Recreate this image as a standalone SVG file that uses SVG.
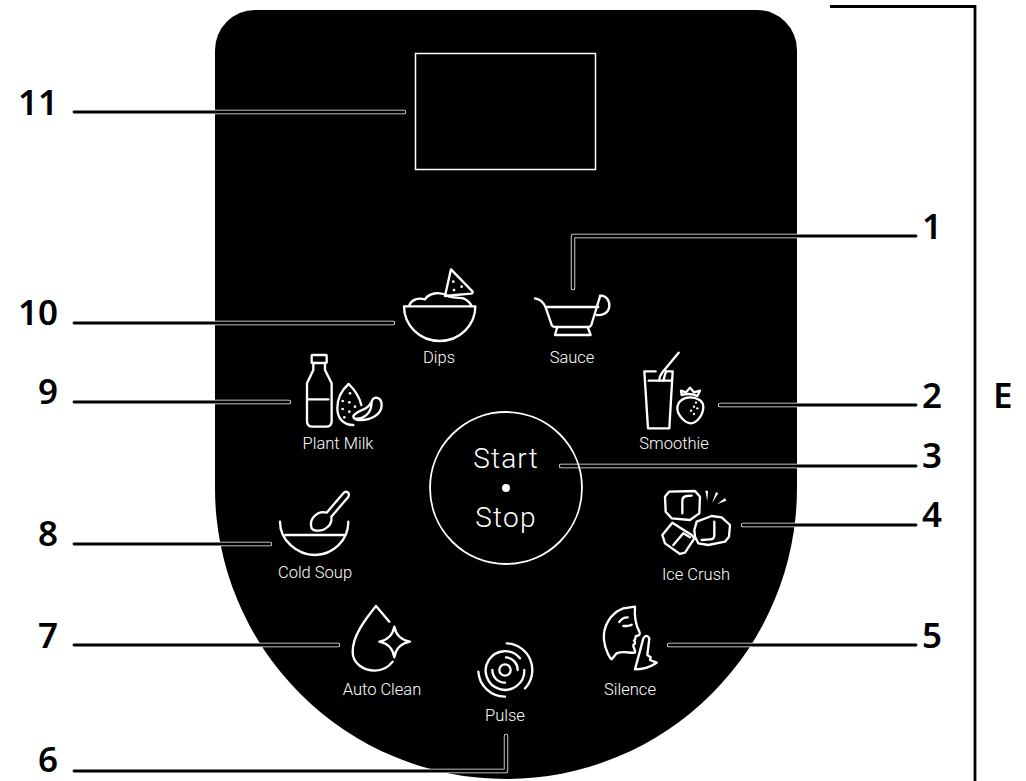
<svg xmlns="http://www.w3.org/2000/svg" width="1026" height="781" viewBox="0 0 1026 781">
<style>
.ic{fill:none;stroke:#fff;stroke-width:7;stroke-linecap:round;stroke-linejoin:round}
.dot{fill:#fff;stroke:none}
.lbl{font-family:Roboto,"Liberation Sans",sans-serif;font-size:16.5px;font-weight:300;fill:#fff;text-anchor:middle}
.big{font-family:Roboto,"Liberation Sans",sans-serif;font-size:28px;font-weight:300;fill:#fff;text-anchor:middle;letter-spacing:1.2px}
.num{font-family:"Noto Sans","Open Sans",sans-serif;font-weight:600;font-size:35px;fill:#000}
.halo{fill:none;stroke:#fff;stroke-width:4.4;stroke-linecap:round;stroke-linejoin:round}
.core{fill:none;stroke:#000;stroke-width:2.8;stroke-linecap:round;stroke-linejoin:round}
</style>
<defs>
<g id="c11"><path d="M74 112H404"/></g>
<g id="c10"><path d="M74 323H393"/></g>
<g id="c9"><path d="M74 402H289"/></g>
<g id="c8"><path d="M74 544H270"/></g>
<g id="c7"><path d="M74 645H338"/></g>
<g id="c6"><path d="M74 771H506V736"/></g>
<g id="c1"><path d="M916 236H573V288"/></g>
<g id="c2"><path d="M720 405H916"/></g>
<g id="c3"><path d="M561 466H916"/></g>
<g id="c4"><path d="M743 525H916"/></g>
<g id="c5"><path d="M669 645H916"/></g>
</defs>
<rect width="1026" height="781" fill="#fff"/>
<path id="panel" d="M215 50A40 40 0 0 1 255 10H757A40 40 0 0 1 797 50V488A291 291 0 0 1 215 488Z" fill="#000"/>
<g id="display"><rect x="415.500" y="53.500" width="180" height="116" fill="none" stroke="#fff" stroke-width="1.500"/></g>
<g id="connectors">
<g class="halo"><use href="#c11"/><use href="#c10"/><use href="#c9"/><use href="#c8"/><use href="#c7"/><use href="#c6"/><use href="#c1"/><use href="#c2"/><use href="#c3"/><use href="#c4"/><use href="#c5"/></g>
<g class="core"><use href="#c11"/><use href="#c10"/><use href="#c9"/><use href="#c8"/><use href="#c7"/><use href="#c6"/><use href="#c1"/><use href="#c2"/><use href="#c3"/><use href="#c4"/><use href="#c5"/></g>
<path d="M830 6.500H975V781" fill="none" stroke="#000" stroke-width="2.800"/>
</g>
<g id="dips">
<g transform="translate(380 230) scale(.3333)" class="ic">
<path d="M72 229H286C286 285 240 333 179 333C118 333 72 285 72 229Z"/>
<path d="M88 225C95 208 115 202 135 208C145 192 175 180 208 200C225 205 240 203 250 205C262 210 270 218 274 226"/>
<path d="M213 118L278 185Q280 190 272 191L195 198Z"/>
<circle class="dot" cx="220" cy="155" r="4"/><circle class="dot" cx="245" cy="170" r="4"/><circle class="dot" cx="222" cy="180" r="4"/>
</g>
<text class="lbl" x="439" y="363">Dips</text></g>
<g id="sauce">
<g transform="translate(380 230) scale(.3333)" class="ic">
<path d="M465 205C485 208 492 220 497 232L515 285Q517 291 525 291H625Q631 291 634 285L660 200"/>
<path d="M497 231H655"/>
<path d="M660 197C680 195 690 215 688 230C686 248 670 257 650 255"/>
<path d="M532 291L525 315H632L623 291"/>
</g>
<text class="lbl" x="572" y="363">Sauce</text></g>
<g id="smoothie">
<g transform="translate(620 340) scale(.3333)" class="ic">
<path d="M107 94H73L84 265H148L158 94H138"/>
<path d="M86 122H153"/>
<path d="M176 38L128 96Q118 108 118 122"/>
<path d="M138 94L130 122"/>
<path d="M210 172C190 172 172 185 172 205C172 225 195 250 212 250C230 250 250 225 250 200C250 182 230 172 210 172Z"/>
<path d="M185 165L183 152L198 157L210 143L222 157L240 152L232 168Q210 158 185 165Z"/>
<circle class="dot" cx="228" cy="188" r="3.500"/><circle class="dot" cx="222" cy="200" r="3.500"/><circle class="dot" cx="232" cy="205" r="3.500"/><circle class="dot" cx="213" cy="212" r="3.500"/><circle class="dot" cx="222" cy="222" r="3.500"/>
</g>
<text class="lbl" x="674" y="449">Smoothie</text></g>
<g id="plantmilk">
<g transform="translate(260 340) scale(.3333)" class="ic">
<rect x="155" y="45" width="45" height="24" rx="2"/>
<path d="M160 69V90L141 130V243Q141 260 158 260H198Q215 260 215 243V130L195 90V69"/>
<path d="M145 178H205"/>
<path d="M266 132C245 150 232 175 232 205C232 235 250 255 280 255"/>
<path d="M266 132C285 150 298 170 304 195"/>
<path d="M282 235C310 240 335 222 335 185C340 165 365 172 365 195C365 225 330 243 295 240C283 238 277 232 282 225C300 205 320 215 335 185"/>
<circle class="dot" cx="270" cy="160" r="4"/><circle class="dot" cx="248" cy="183" r="4"/><circle class="dot" cx="268" cy="187" r="4"/><circle class="dot" cx="285" cy="200" r="4"/><circle class="dot" cx="248" cy="207" r="4"/><circle class="dot" cx="268" cy="215" r="4"/><circle class="dot" cx="253" cy="232" r="4"/>
</g>
<text class="lbl" x="338" y="449">Plant Milk</text></g>
<g id="coldsoup">
<g transform="translate(260 340) scale(.3333)" class="ic">
<path d="M60 545C60 600 110 645 165 645C220 645 265 600 265 545"/>
<path d="M76 585H252"/>
<path d="M155 565C145 535 175 510 200 518L250 460C258 450 272 458 264 472L214 530C218 555 195 572 175 572C165 572 158 570 155 565Z"/>
</g>
<text class="lbl" x="315" y="578">Cold Soup</text></g>
<g id="autoclean">
<g transform="translate(330 590) scale(.3333)" class="ic">
<path d="M178 95L138 48C100 95 68 140 68 185C68 220 100 242 135 242C155 242 175 232 188 215"/>
<path d="M193 110Q200 148 240 155Q200 162 193 202Q186 162 148 155Q186 148 193 110Z"/>
</g>
<text class="lbl" x="382" y="695">Auto Clean</text></g>
<g id="pulse">
<g transform="translate(470 635) scale(.3333)" class="ic">
<circle cx="105" cy="105" r="17"/>
<path d="M108 67A38 38 0 0 1 143 105"/>
<path d="M67 105A38 38 0 0 0 105 143"/>
<path d="M150 70A58 58 0 1 0 163 105"/>
<path d="M110 25A80 80 0 0 1 165 160"/>
<path d="M25 110A80 80 0 0 0 105 185"/>
</g>
<text class="lbl" x="505" y="721">Pulse</text></g>
<g id="silence">
<g transform="translate(590 600) scale(.3333)" class="ic">
<path d="M65 178L80 160C100 152 120 160 135 158C138 150 128 142 130 135C135 132 138 128 132 122C138 118 135 112 138 108C148 108 152 102 148 95C140 80 132 60 135 20L100 25C60 40 38 80 42 120C45 150 60 175 65 178Z"/>
<path d="M88 66C95 55 105 52 113 52"/>
<path d="M100 78C110 78 118 78 125 74"/>
<path d="M135 208L160 115Q170 100 178 115L172 165L182 172L180 180L200 188Q170 208 135 208Z"/>
</g>
<text class="lbl" x="630" y="695">Silence</text></g>
<g id="icecrush">
<g transform="translate(655 480) scale(.3333)" class="ic">
<path d="M42 35L120 33L135 50L133 100L105 120L50 115L32 95L30 50Z"/>
<path d="M82 100V62Q82 50 95 48L110 47"/>
<path d="M52 128L22 165L30 190L75 222L90 218L118 175L110 165Z"/>
<path d="M55 195L85 160L105 172"/>
<path d="M125 125L170 108L200 112L225 135L222 170L210 185L160 195L130 190L120 170L118 150Z"/>
<path d="M178 125V165Q178 178 165 178L140 180"/>
<path class="dot" d="M151 32L159 32L157 64Z"/>
<path class="dot" d="M183 36L190 40L171 70Z"/>
<path class="dot" d="M210 54L214 62L186 73Z"/>
</g>
<text class="lbl" x="696" y="580">Ice Crush</text></g>
<g id="startstop">
<circle cx="506" cy="488" r="76" fill="none" stroke="#fff" stroke-width="1.800"/>
<circle cx="506" cy="488" r="4" fill="#fff"/>
<text class="big" x="506" y="468">Start</text>
<text class="big" x="506" y="527">Stop</text></g>
<g id="labels">
<text class="num" x="58" y="115" text-anchor="end">11</text>
<text class="num" x="58" y="325" text-anchor="end">10</text>
<text class="num" x="58" y="404" text-anchor="end">9</text>
<text class="num" x="58" y="546" text-anchor="end">8</text>
<text class="num" x="58" y="648" text-anchor="end">7</text>
<text class="num" x="58" y="772" text-anchor="end">6</text>
<text class="num" x="922" y="239">1</text>
<text class="num" x="922" y="408">2</text>
<text class="num" x="922" y="468">3</text>
<text class="num" x="922" y="527">4</text>
<text class="num" x="922" y="648">5</text>
<text class="num" x="993" y="408">E</text>
</g>
</svg>
